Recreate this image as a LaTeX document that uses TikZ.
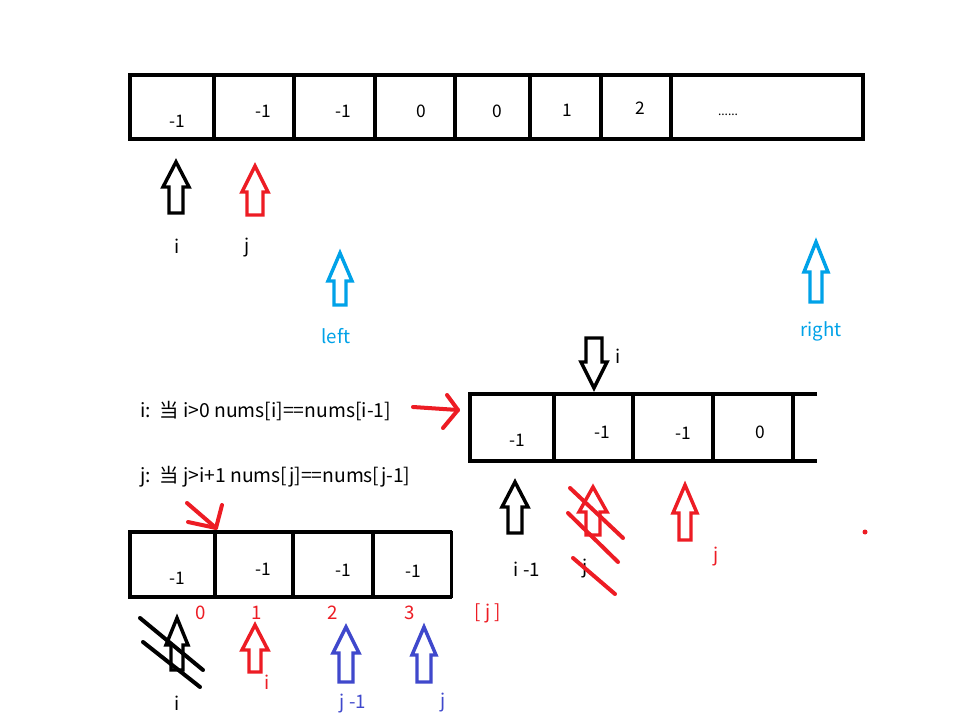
\documentclass[tikz,border=0pt]{standalone}
\usepackage{fontspec}
\setmainfont{Noto Sans CJK SC}
\definecolor{pred}{RGB}{237,28,36}
\definecolor{pblue}{RGB}{63,72,204}
\definecolor{pcyan}{RGB}{0,162,232}
\newcommand{\blkup}[7]{%
  \draw[blk,#7] (#1-#6,#4) -- (#1-#6,#3) -- (#1-#5,#3) -- (#1,#2) -- (#1+#5,#3) -- (#1+#6,#3) -- (#1+#6,#4) -- cycle;}
\begin{document}
\begin{tikzpicture}[x=0.75pt,y=-0.75pt,
  box/.style={line width=3pt},
  blk/.style={line width=2.6pt, line join=miter},
  stroke/.style={line width=3pt, line cap=round},
  lbl/.style={inner sep=0pt, font=\fontsize{14}{16}\selectfont},
  cond/.style={inner sep=0pt, font=\fontsize{14.5}{17}\selectfont},
  num/.style={inner sep=0pt, font=\fontsize{13}{15}\selectfont}]
\useasboundingbox (0,0) rectangle (966,716);
\fill[white] (0,0) rectangle (966,716);

% ---- top array
\draw[box] (130,75) rectangle (863,139);
\foreach \xx in {214,294,375,455,530,601,671} \draw[box] (\xx,75) -- (\xx,139);
\node[num] (t1) at (177,121) {-1};
\node[num] (t2) at (263,111) {-1};
\node[num] (t3) at (343,111) {-1};
\node[num] (t4) at (421,111) {0};
\node[num] (t5) at (497,111) {0};
\node[num] (t6) at (567,110) {1};
\node[num] (t7) at (640,108) {2};
\node[inner sep=0pt, font=\fontsize{9}{10}\selectfont] (t8) at (728,115) {......};

\blkup{176}{162}{187}{213}{13}{7}{black}
\blkup{255}{166}{192}{215}{13}{8}{pred}
\node[lbl] (li) at (177,246) {i};
\node[lbl] (lj) at (247,248) {j};

\blkup{340}{253}{281}{305}{12}{6}{pcyan}
\blkup{816}{242}{272}{302}{12}{6}{pcyan}
\node[lbl, text=pcyan] (lleft) at (336,336) {left};
\node[lbl, text=pcyan] (lright) at (821,331) {right};

% ---- conditions
\node[cond, anchor=west] (ci) at (140,411) {i:\ \ 当 i>0 nums[i]==nums[i-1]};
\node[cond, anchor=west] (cj) at (140,477) {j:\ \ 当 j>i+1 nums[j]==nums[j-1]};

% red pointer arrows
\draw[stroke, pred] (413,407) -- (458,410);
\draw[stroke, pred, line join=round] (447,395) -- (458,410) -- (443,428);
\draw[stroke, pred] (187,503) -- (216,528);
\draw[stroke, pred, line join=round] (188,522) -- (216,528) -- (222,505);

% ---- lower right array
\draw[box] (817,394) -- (470,394) -- (470,461) -- (817,461);
\foreach \xx in {554,633,713,793} \draw[box] (\xx,394) -- (\xx,461);
\node[num] (r1) at (517,440) {-1};
\node[num] (r2) at (602,432) {-1};
\node[num] (r3) at (683,433) {-1};
\node[num] (r4) at (760,432) {0};

\blkup{594}{388}{362}{338}{13}{8}{black}
\node[lbl] (ri) at (618,356) {i};

\blkup{515}{482}{507}{533}{13}{7}{black}
\blkup{593}{487}{512}{535}{14}{7}{pred}
\blkup{685}{485}{513}{540}{12}{6}{pred}
\node[lbl] (rim) at (527,569) {i -1};
\node[lbl] (rj) at (585,569) {j};
\node[lbl, text=pred] (rj2) at (716,557) {j};
\draw[stroke, pred] (570,488) -- (623,538);
\draw[stroke, pred] (568,513) -- (618,562);
\draw[stroke, pred] (573,558) -- (615,594);
\fill[pred] (865,532) circle (2.5);

% ---- lower left array
\draw[box] (452,532) -- (130,532) -- (130,597) -- (452,597);
\draw[line width=1.8pt] (451.5,531) -- (451.5,598);
\foreach \xx in {215,293,373} \draw[box] (\xx,532) -- (\xx,597);
\node[num] (b1) at (177,578) {-1};
\node[num] (b2) at (263,569) {-1};
\node[num] (b3) at (343,570) {-1};
\node[num] (b4) at (413,571) {-1};

\node[lbl, text=pred] (n0) at (201,613) {0};
\node[lbl, text=pred] (n1) at (257,613) {1};
\node[lbl, text=pred] (n2) at (333,613) {2};
\node[lbl, text=pred] (n3) at (410,613) {3};
\node[lbl, text=pred] (nj) at (488,613) {[ j ]};

\blkup{177}{618}{645}{670}{11}{6}{black}
\draw[stroke] (140,618) -- (203,670);
\draw[stroke] (143,642) -- (200,687);
\blkup{255}{625}{650}{672}{13}{6}{pred}
\blkup{346}{627}{653}{682}{13}{7}{pblue}
\blkup{424}{627}{655}{682}{12}{7}{pblue}
\node[lbl, text=pred] (bi2) at (267,682) {i};
\node[lbl] (bi) at (177,703) {i};
\node[lbl, text=pblue] (bjm) at (353,704) {j -1};
\node[lbl, text=pblue] (bj) at (443,703) {j};
\end{tikzpicture}
\end{document}
